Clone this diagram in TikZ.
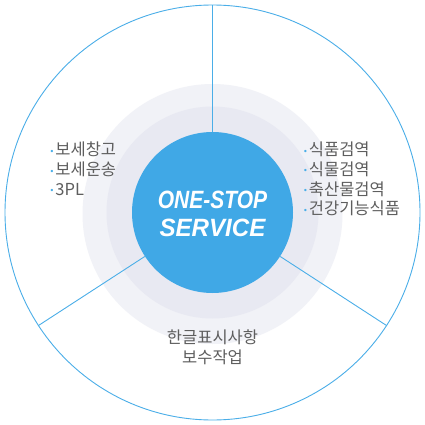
\documentclass[tikz,border=0pt]{standalone}
\usepackage{fontspec}
\usepackage{graphicx}
\setmainfont{Liberation Sans}
\newfontfamily\kr{Noto Sans CJK KR}
\newfontfamily\oss{Liberation Sans}
\newfontfamily\dv{DejaVu Sans}
\definecolor{ringblue}{HTML}{4AAEE8}
\definecolor{mainblue}{HTML}{40A8E6}
\definecolor{grayA}{HTML}{F1F2F7}
\definecolor{grayB}{HTML}{E8E9F2}
\definecolor{txt}{HTML}{5E5E5E}
\newcommand{\bul}{\textcolor{ringblue}{\dv\fontsize{8}{8}\selectfont\raisebox{1.5pt}{•}}\hspace{1pt}}
\tikzset{
  listtext/.style={font=\kr\fontsize{16.5}{19.6}\selectfont, text=txt, inner sep=0pt},
  spoke/.style={draw=ringblue, line width=0.9pt},
}
\begin{document}
\begin{tikzpicture}[x=1pt,y=-1pt]
\useasboundingbox (0,0) rectangle (425,425);
\fill[white] (0,0) rectangle (425,425);
\node[circle, fill=grayA, minimum size=260pt, inner sep=0pt] (g1) at (212.5,214) {};
\node[circle, fill=grayB, minimum size=212pt, inner sep=0pt] (g2) at (212.5,212.5) {};
\node[circle, draw=ringblue, line width=0.9pt, minimum size=415pt, inner sep=0pt] (ring) at (212.5,212.5) {};
\node[circle, fill=mainblue, minimum size=161pt, inner sep=0pt] (c) at (212.5,212.5) {};
\draw[spoke] (c.90) -- (ring.90);
\draw[spoke] (c.-33) -- (ring.-33);
\draw[spoke] (c.213) -- (ring.213);
\node[text=white, align=center, inner sep=0pt, font=\oss\bfseries\itshape\fontsize{25}{28}\selectfont] (t) at (212.5,214)
  {\scalebox{0.84}[1]{ONE-STOP}\\\scalebox{0.965}[1]{SERVICE}};
\node[listtext, align=left, anchor=north west] (left) at (49.5,142)
  {\bul 보세창고\\\bul 보세운송\\\bul 3PL};
\node[listtext, align=left, anchor=north west] (right) at (303,142)
  {\bul 식품검역\\\bul 식물검역\\\bul 축산물검역\\\bul 건강기능식품};
\node[listtext, align=center, anchor=north] (bottom) at (212.5,330)
  {한글표시사항\\보수작업};
\end{tikzpicture}
\end{document}
